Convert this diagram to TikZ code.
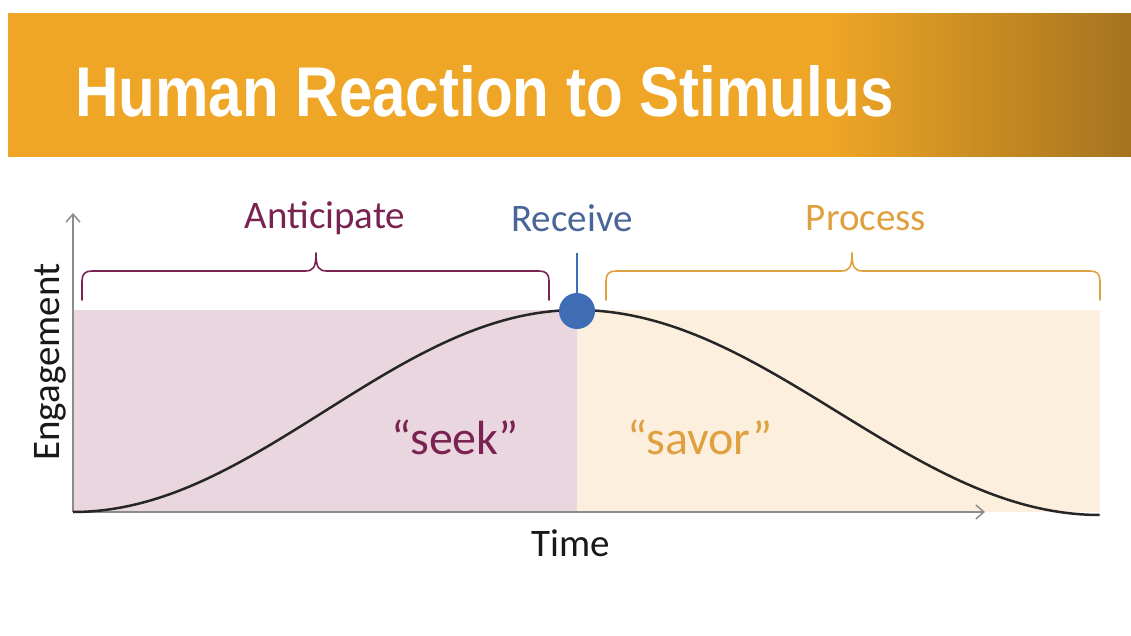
\documentclass[tikz,border=0pt]{standalone}
\usepackage{fontspec}
\setmainfont{Carlito}
\newfontfamily\titlefont{Liberation Sans}
\usetikzlibrary{arrows.meta}
\definecolor{banner}{HTML}{EFA626}
\definecolor{bannerdark}{HTML}{A5731F}
\definecolor{pinkfill}{HTML}{E9D6DF}
\definecolor{peachfill}{HTML}{FDEFDD}
\definecolor{maroonc}{HTML}{7A2352}
\definecolor{bluedot}{HTML}{3E6DB5}
\definecolor{bluetext}{HTML}{4A6699}
\definecolor{orangec}{HTML}{DFA03F}
\definecolor{axisgray}{HTML}{8C8C8C}
\pgfdeclarehorizontalshading{bannershade}{100bp}{color(0bp)=(banner); color(61.5bp)=(banner); color(75bp)=(bannerdark); color(100bp)=(bannerdark)}
\tikzset{
  lbl/.style={font=\fontsize{39}{39}\selectfont, inner sep=0pt},
  big/.style={font=\fontsize{48}{48}\selectfont, inner sep=0pt},
  bracepath/.style={line width=1.6pt, line cap=round, line join=round},
  axisline/.style={axisgray, line width=1.5pt, -{Straight Barb[length=8pt,width=14pt,line width=1.5pt]}},
}
\begin{document}
\begin{tikzpicture}[x=1pt,y=-1pt]
\useasboundingbox (0,0) rectangle (1131,636);
\fill[white] (0,0) rectangle (1131,636);
% banner
\shade[shading=bannershade] (8,14) rectangle (1131,157);
\node[anchor=base west, inner sep=0pt, text=white] (title) at (75,117)
  {\resizebox{818pt}{51pt}{\titlefont\bfseries Human Reaction to Stimulus}};
% regions
\fill[pinkfill] (73,310) rectangle (577,512);
\fill[peachfill] (577,310) rectangle (1100,512);
% axes
\coordinate (o) at (73,512);
\coordinate (xend) at (985,512);
\coordinate (yend) at (73,213);
\draw[axisline] (o) -- (xend);
\draw[axisline] (o) -- (yend);
% curve
\draw[line width=2.5pt, black!85] plot[domain=0:1, samples=80] ({73+504*\x}, {512-101*(1-cos(180*\x))})
  -- plot[domain=0:1, samples=80] ({577+523*\x}, {310+102.5*(1-cos(180*\x))});
% braces
\draw[bracepath, maroonc] (82,300) -- (82,281) .. controls (82,274) and (85,271) .. (92,271) -- (305,271)
  .. controls (313,271) and (316,268) .. (316,253) .. controls (316,268) and (319,271) .. (327,271)
  -- (539,271) .. controls (546,271) and (549,274) .. (549,281) -- (549,300);
\draw[bracepath, orangec] (606,300) -- (606,281) .. controls (606,274) and (609,271) .. (616,271) -- (841,271)
  .. controls (849,271) and (852,268) .. (852,253) .. controls (852,268) and (855,271) .. (863,271)
  -- (1090,271) .. controls (1097,271) and (1100,274) .. (1100,281) -- (1100,300);
% receive marker
\node[circle, fill=bluedot, minimum size=36pt, inner sep=0pt] (dot) at (577,311) {};
\coordinate (tick) at (577,253);
\draw[bluedot, line width=1.8pt] (tick) -- (dot.north);
% labels
\node[lbl, text=maroonc] (ant) at (325,218) {Anticipate};
\node[lbl, text=bluetext] (rec) at (572,218) {Receive};
\node[lbl, text=orangec] (proc) at (866,218) {Process};
\node[big, text=maroonc] (seek) at (455,437) {“seek”};
\node[big, text=orangec] (savor) at (700,437) {“savor”};
\node[lbl, text=black!90] (time) at (571,543) {Time};
\node[lbl, text=black!90, rotate=90] (eng) at (50,362) {Engagement};
\end{tikzpicture}
\end{document}
